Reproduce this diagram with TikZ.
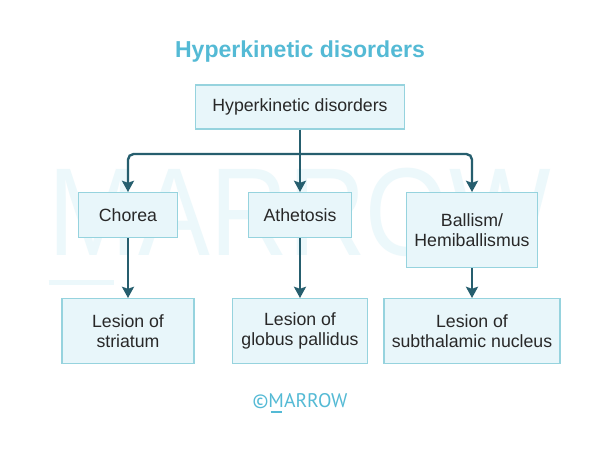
\documentclass[tikz,border=0pt]{standalone}
\usepackage{fontspec}
\setmainfont{Liberation Sans}
\newfontfamily\logofont{PT Sans}
\usetikzlibrary{arrows.meta,positioning,calc}
\definecolor{MarrowTitle}{RGB}{84,186,213}
\definecolor{MarrowText}{RGB}{40,40,40}
\definecolor{MarrowBox}{RGB}{232,246,250}
\definecolor{MarrowBoxBorder}{RGB}{150,211,222}
\definecolor{MarrowArrow}{RGB}{38,94,110}
\definecolor{MarrowWatermark}{RGB}{236,248,251}
\tikzset{
  caixa/.style={draw=MarrowBoxBorder, fill=MarrowBox, line width=0.9pt, align=center,
                font=\fontsize{12.6}{14.2}\selectfont, text=MarrowText, inner sep=2pt,
                minimum height=1.125cm},
  seta/.style={-{Stealth[length=2.8mm, width=3.0mm, inset=0.5mm]}, line width=1.7pt,
               MarrowArrow, rounded corners=4pt},
  marca/.style={font=\fontsize{89}{89}\selectfont, text=MarrowWatermark, inner sep=0pt,
                xscale=0.86, anchor=base},
}

\begin{document}
\begin{tikzpicture}

  \useasboundingbox (0,0) rectangle (15,-11.25);
  \fill[white] (0,0) rectangle (15,-11.25);

  % --- Marca d'agua ao fundo ------------------------------------------------
  \node[marca] (mark) at (7.5,-6.375)
    {\makebox[0pt][l]{\rule[-21pt]{54pt}{3pt}}MARROW};

  % --- Titulo e caixa de topo ----------------------------------------------
  \node[anchor=base, font=\fontsize{16.4}{18}\selectfont\bfseries, text=MarrowTitle]
    (title) at (7.5,-1.425) {Hyperkinetic disorders};
  \node[caixa, minimum width=5.225cm, minimum height=1.1cm] (hyper) at (7.5,-2.675)
    {Hyperkinetic disorders};

  % --- Tipos de movimento ----------------------------------------------------
  \node[caixa, anchor=north, minimum width=2.475cm] (chorea)    at (3.2,-4.8)  {Chorea};
  \node[caixa, anchor=north, minimum width=2.575cm] (athetosis) at (7.5,-4.8)  {Athetosis};
  \node[caixa, anchor=north, minimum width=3.275cm, minimum height=1.875cm]
    (ballism) at (11.8,-4.8) {Ballism/\\Hemiballismus};

  \coordinate (bus) at (7.5,-3.85);
  \draw[seta] (hyper.south) -- (athetosis.north);
  \draw[seta] (bus) -| (chorea.north);
  \draw[seta] (bus) -| (ballism.north);

  % --- Lesoes ----------------------------------------------------------------
  \node[caixa, anchor=north, minimum width=3.3cm,   minimum height=1.625cm]
    (striatum) at (3.2,-7.45)  {Lesion of\\striatum};
  \node[caixa, anchor=north, minimum width=3.375cm, minimum height=1.625cm]
    (pallidus) at (7.5,-7.45)  {Lesion of\\globus pallidus};
  \node[caixa, anchor=north, minimum width=4.4cm,   minimum height=1.625cm]
    (subthal)  at (11.8,-7.45) {Lesion of\\subthalamic nucleus};

  \draw[seta] (chorea.south)    -- (striatum.north);
  \draw[seta] (athetosis.south) -- (pallidus.north);
  \draw[seta] (ballism.south)   -- (subthal.north);

  % --- Logotipo --------------------------------------------------------------
  \node[anchor=base, font=\logofont\fontsize{14}{16}\selectfont, text=MarrowTitle]
    (logo) at (7.5,-10.175)
    {©\makebox[0pt][l]{\hspace{0.12em}\rule[-4.4pt]{0.55em}{1.5pt}}MARROW};

\end{tikzpicture}
\end{document}
